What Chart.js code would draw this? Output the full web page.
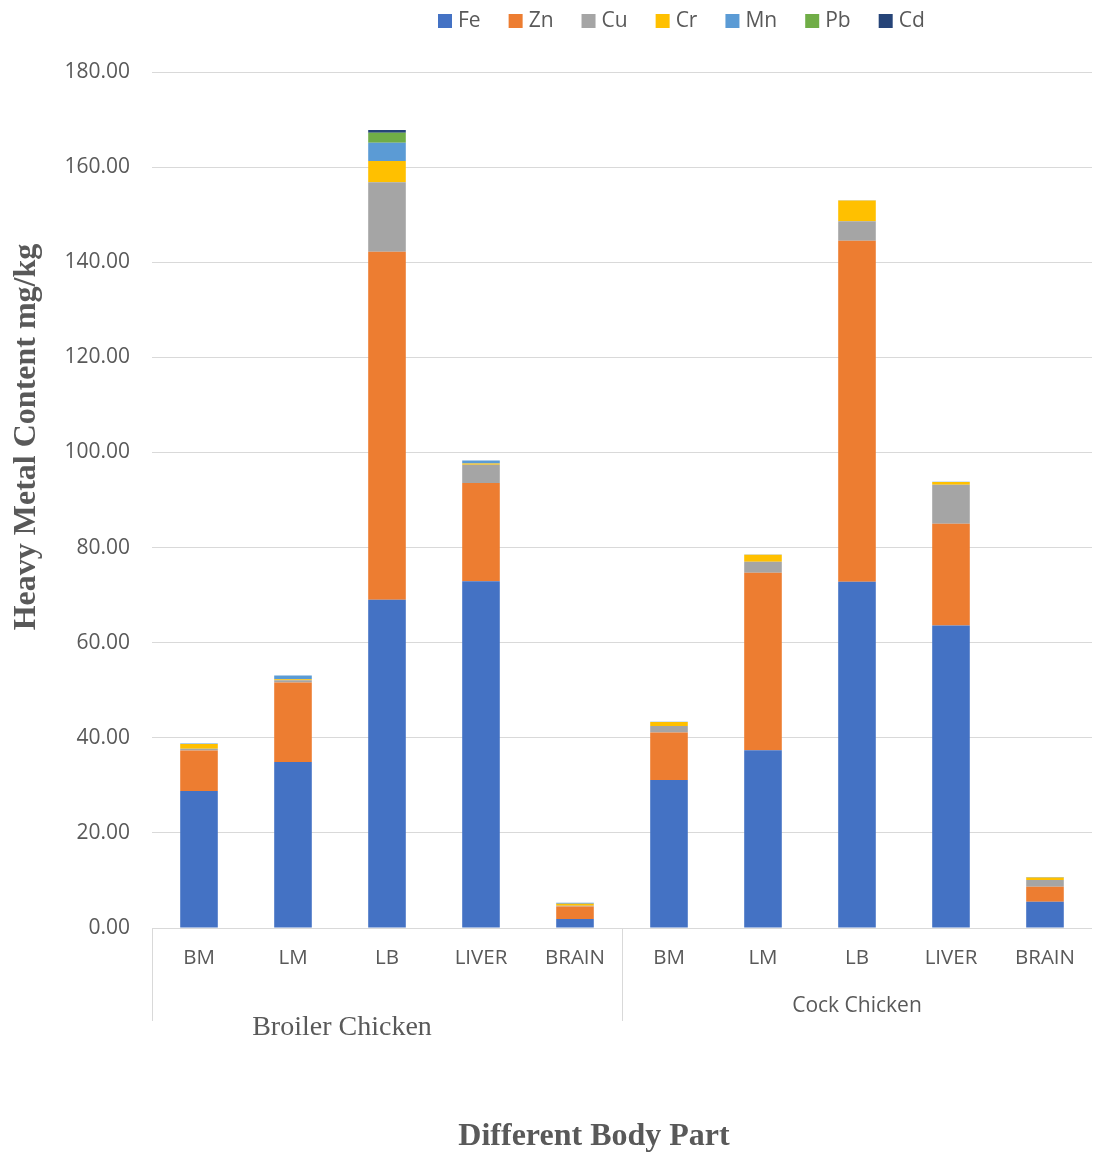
<!DOCTYPE html>
<html>
<head>
<meta charset="UTF-8">
<title>Heavy Metal Content</title>
<script src="https://cdn.jsdelivr.net/npm/chart.js"></script>
<style>
  html, body { margin: 0; padding: 0; background: #fff; }
  #wrap { width: 1093px; height: 1155px; position: relative; }
</style>
</head>
<body>
<div id="wrap"><canvas id="chart"></canvas></div>
<script>
// categories (body parts), two groups of five
const parts = ['BM', 'LM', 'LB', 'LIVER', 'BRAIN', 'BM', 'LM', 'LB', 'LIVER', 'BRAIN'];
const groups = ['Broiler Chicken', 'Cock Chicken'];
const yTicks = [0, 20, 40, 60, 80, 100, 120, 140, 160, 180];

// metal content mg/kg
const fe = [28.8, 34.9, 69.0, 72.9, 1.9, 31.1, 37.4, 72.8, 63.6, 5.5];
const zn = [8.5, 16.7, 73.2, 20.7, 2.6, 10.0, 37.3, 71.7, 21.4, 3.2];
const cu = [0.4, 0.5, 14.6, 3.8, 0.2, 1.4, 2.3, 4.1, 8.2, 1.4];
const cr = [1.0, 0.2, 4.5, 0.3, 0.4, 0.8, 1.5, 4.4, 0.6, 0.5];
const mn = [0.1, 0.8, 3.8, 0.6, 0.2, 0.05, 0.05, 0.05, 0.05, 0.1];
const pb = [0, 0, 2.1, 0, 0, 0, 0, 0, 0, 0];
const cd = [0, 0, 0.6, 0, 0, 0, 0, 0, 0, 0];

const metals = ['Fe', 'Zn', 'Cu', 'Cr', 'Mn', 'Pb', 'Cd'];
const colors = ['#4472C4', '#ED7D31', '#A5A5A5', '#FFC000', '#5B9BD5', '#70AD47', '#264478'];
const series = [fe, zn, cu, cr, mn, pb, cd];

const grey = '#595959';
const sans = '"Open Sans", "Liberation Sans", sans-serif';
const serif = '"Liberation Serif", "DejaVu Serif", serif';

// legend, group labels, separators and axis titles
const extras = {
    id: 'extras',
    afterDraw(chart) {
        const ctx = chart.ctx;
        const area = chart.chartArea;
        const x = chart.scales.x;
        ctx.save();

        // legend
        ctx.font = '21px ' + sans;
        ctx.textBaseline = 'middle';
        let lx = area.left + 286;
        const ly = 21;
        metals.forEach((m, i) => {
            ctx.fillStyle = colors[i];
            ctx.fillRect(lx, ly - 7, 14, 14);
            ctx.fillStyle = grey;
            ctx.textAlign = 'left';
            ctx.fillText(m, lx + 20, ly);
            lx += 20 + ctx.measureText(m).width + 28;
        });

        // group separators
        const half = (x.getPixelForValue(1) - x.getPixelForValue(0)) / 2;
        const sepX = [x.getPixelForValue(0) - half, x.getPixelForValue(5) - half];
        ctx.strokeStyle = '#d9d9d9';
        ctx.lineWidth = 1;
        sepX.forEach(sx => {
            ctx.beginPath();
            ctx.moveTo(Math.round(sx) + 0.5, area.bottom);
            ctx.lineTo(Math.round(sx) + 0.5, area.bottom + 93);
            ctx.stroke();
        });

        // group labels
        ctx.textAlign = 'center';
        ctx.fillStyle = grey;
        const g1 = (x.getPixelForValue(0) + x.getPixelForValue(4)) / 2 - 45;
        const g2 = (x.getPixelForValue(5) + x.getPixelForValue(9)) / 2;
        ctx.font = '28px ' + serif;
        ctx.fillText(groups[0], g1, 1028);
        ctx.font = '21px ' + sans;
        ctx.fillText(groups[1], g2, 1006);

        // axis titles
        ctx.font = 'bold 32px ' + serif;
        ctx.fillText('Different Body Part', 594, 1137);
        ctx.translate(27, 437);
        ctx.rotate(-Math.PI / 2);
        ctx.fillText('Heavy Metal Content mg/kg', 0, 0);
        ctx.restore();
    }
};

new Chart(document.getElementById('chart'), {
    type: 'bar',
    data: {
        labels: parts,
        datasets: metals.map((m, i) => ({
            label: m,
            data: series[i],
            backgroundColor: colors[i],
            borderWidth: 0,
            barPercentage: 0.4,
            categoryPercentage: 1
        }))
    },
    options: {
        responsive: true,
        maintainAspectRatio: false,
        animation: false,
        layout: { padding: { top: 72, right: 0, left: 0, bottom: 0 } },
        plugins: {
            legend: { display: false },
            tooltip: { enabled: false },
            title: { display: false }
        },
        scales: {
            x: {
                stacked: true,
                grid: { display: false, drawTicks: false },
                border: { display: true, color: '#d9d9d9', width: 1 },
                ticks: {
                    color: grey,
                    font: { family: sans, size: 20.5 },
                    padding: 18,
                    maxRotation: 0,
                    autoSkip: false
                },
                afterFit(scale) { scale.height = 227; }
            },
            y: {
                stacked: true,
                min: 0,
                max: 180,
                afterBuildTicks(scale) { scale.ticks = yTicks.map(v => ({ value: v })); },
                grid: { color: '#d9d9d9', lineWidth: 1, drawTicks: false },
                border: { display: false },
                ticks: {
                    color: grey,
                    font: { family: sans, size: 21 },
                    padding: 22,
                    callback: v => Number(v).toFixed(2)
                },
                afterFit(scale) { scale.width = 152; }
            }
        }
    },
    plugins: [extras]
});
</script>
</body>
</html>
